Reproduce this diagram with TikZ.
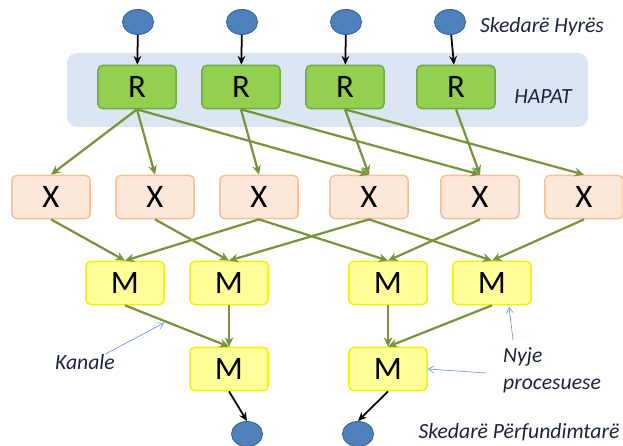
\documentclass[tikz,border=0pt]{standalone}
\usepackage{fontspec}
\setmainfont{Carlito}
\usetikzlibrary{positioning,shapes.geometric,arrows.meta}

\definecolor{filefill}{HTML}{4F81BD}
\definecolor{filedraw}{HTML}{3C6494}
\definecolor{bandfill}{HTML}{DCE6F2}
\definecolor{rfill}{HTML}{92D050}
\definecolor{rdraw}{HTML}{72A83E}
\definecolor{xfill}{HTML}{FDE7D8}
\definecolor{xdraw}{HTML}{F8BE96}
\definecolor{mfill}{HTML}{FFFF99}
\definecolor{mdraw}{HTML}{F2F200}
\definecolor{flowgreen}{HTML}{77933C}
\definecolor{notecol}{HTML}{5B8FD6}
\definecolor{tagcol}{HTML}{1A2440}

\begin{document}
\begin{tikzpicture}[
			x=0.3mm,y=-0.3mm,
			file/.style={
				ellipse,
				draw=filedraw,
				fill=filefill,
				line width=0.8pt,
				minimum width=9.3mm,
				minimum height=7.5mm,
				inner sep=0pt
			},
			task/.style={
				rectangle,
				rounded corners=1.5mm,
				line width=1.2pt,
				minimum width=23.5mm,
				minimum height=13mm,
				inner sep=0pt,
				font=\fontsize{28}{32}\selectfont
			},
			rbox/.style={task, draw=rdraw, fill=rfill},
			xbox/.style={task, draw=xdraw, fill=xfill},
			mbox/.style={task, draw=mdraw, fill=mfill},
			flow/.style={
				draw=flowgreen,
				line width=1.9pt,
				-{Stealth[length=2.8mm,width=2.6mm]}
			},
			feed/.style={
				line width=1.5pt,
				-{Stealth[length=2.6mm,width=2.3mm]}
			},
			note/.style={
				draw=notecol,
				line width=0.5pt,
				-{Straight Barb[length=1.6mm,width=2mm]}
			},
			tag/.style={
				inner sep=0pt,
				text=tagcol,
				font=\fontsize{18.5}{23}\selectfont\itshape
			}
			]
			\useasboundingbox (0,0) rectangle (623,446);
			
			% band behind the R row
			\fill[bandfill, rounded corners=3mm] (67,53) rectangle (588,127);
			
			\begin{scope}
				\node[file] (in1) at (138,22) {};
				\node[file] (in2) at (242,22) {};
				\node[file] (in3) at (346,22) {};
				\node[file] (in4) at (450,22) {};
				\node[rbox] (r1) at (137,87) {R};
				\node[rbox] (r2) at (241,87) {R};
				\node[rbox] (r3) at (345,87) {R};
				\node[rbox] (r4) at (456,87) {R};
				\draw[feed] (in1) -- (r1);
				\draw[feed] (in2) -- (r2);
				\draw[feed] (in3) -- (r3);
				\draw[feed] (in4) -- (r4);
				\node[tag] (hyres) at (542,27) {Skedarë Hyrës};
				\node[tag] (hapat) at (543,97) {HAPAT};
			\end{scope}
			
			\begin{scope}
				\node[xbox] (x1) at (51,197) {X};
				\node[xbox] (x2) at (155,197) {X};
				\node[xbox] (x3) at (259,197) {X};
				\node[xbox] (x4) at (369,197) {X};
				\node[xbox] (x5) at (480,197) {X};
				\node[xbox] (x6) at (584,197) {X};
				\draw[flow] (r1.south) -- (x1.north);
				\draw[flow] (r1.south) -- (x2.north);
				\draw[flow] (r1.south) -- (x4.north);
				\draw[flow] (r2.south) -- (x3.north);
				\draw[flow] (r2.south) -- (x5.north);
				\draw[flow] (r3.south) -- (x4.north);
				\draw[flow] (r3.south) -- (x6.north);
				\draw[flow] (r4.south) -- (x5.north);
			\end{scope}
			
			\begin{scope}
				\node[mbox] (m1) at (125,283) {M};
				\node[mbox] (m2) at (229,283) {M};
				\node[mbox] (m3) at (388,283) {M};
				\node[mbox] (m4) at (492,283) {M};
				\draw[flow] (x1.south) -- (m1.north);
				\draw[flow] (x3.south) -- (m1.north);
				\draw[flow] (x2.south) -- (m2.north);
				\draw[flow] (x4.south) -- (m2.north);
				\draw[flow] (x3.south) -- (m3.north);
				\draw[flow] (x5.south) -- (m3.north);
				\draw[flow] (x4.south) -- (m4.north);
				\draw[flow] (x6.south) -- (m4.north);
			\end{scope}
			
			\begin{scope}
				\node[mbox] (m5) at (229,369) {M};
				\node[mbox] (m6) at (388,369) {M};
				\draw[flow] (m1.south) -- (m5.north);
				\draw[flow] (m2.south) -- (m5.north);
				\draw[flow] (m3.south) -- (m6.north);
				\draw[flow] (m4.south) -- (m6.north);
				\node[file] (out1) at (247,434) {};
				\node[file] (out2) at (358,434) {};
				\draw[feed] (m5.south) -- (out1.north);
				\draw[feed] (m6.south) -- (out2.north);
				\node[tag] (perf) at (519,432) {Skedarë Përfundimtarë};
			\end{scope}
			
			% labels with thin pointers
			\node[tag] (kanale) at (85,362) {Kanale};
			\node[tag, anchor=west, align=left] (nyje) at (503,370) {Nyje\\procesuese};
			\coordinate (kanaltip) at (164,323);
			\coordinate (nyjetail1) at (513,340);
			\coordinate (nyjetip1) at (509,307);
			\coordinate (nyjetail2) at (486,373);
			\draw[note] ([xshift=-3mm]kanale.north east) -- (kanaltip);
			\draw[note] (nyjetail1) -- (nyjetip1);
			\draw[note] (nyjetail2) -- (m6.east);
		\end{tikzpicture}
\end{document}
